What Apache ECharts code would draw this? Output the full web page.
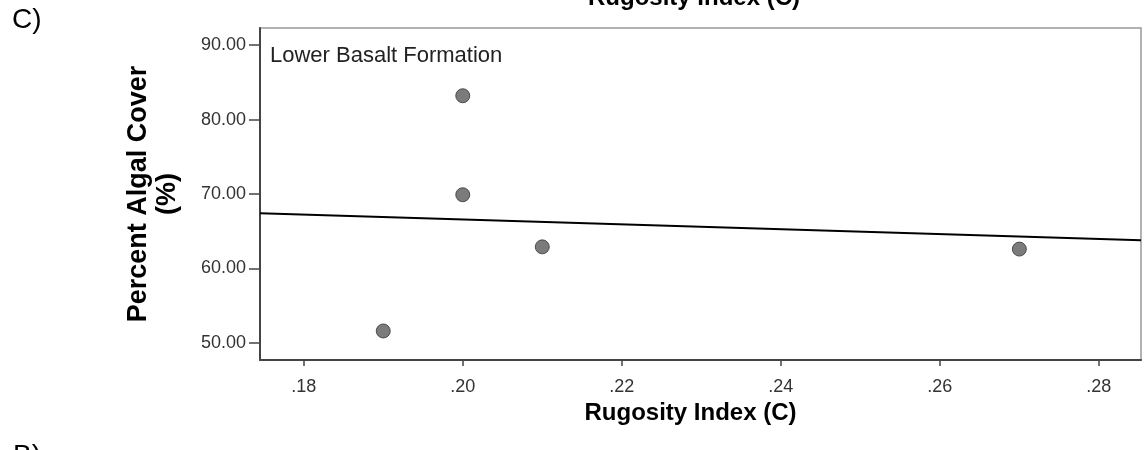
<!DOCTYPE html>
<html style="height: 100%">
<head>
	<meta charset="utf-8">
</head>
<body style="height: 100%; margin: 0; background: #fff">
<div id="container" style="width: 1144px; height: 450px"></div>
<script type="text/javascript" src="https://cdn.jsdelivr.net/npm/echarts@6/dist/echarts.min.js"></script>
<script type="text/javascript">
    var dom = document.getElementById("container");
    var myChart = echarts.init(dom);

    // observations: rugosity index vs percent algal cover
    var rugosity = [0.19, 0.20, 0.20, 0.21, 0.27];
    var algalCover = [51.6, 83.2, 69.9, 62.9, 62.6];
    // fitted line, read at the two ends of the x range
    var fitX = [0.1745, 0.2853];
    var fitY = [67.4, 63.8];
    var xTicks = [0.18, 0.20, 0.22, 0.24, 0.26, 0.28];
    var yTicks = [50, 60, 70, 80, 90];

    var font = 'Liberation Sans, Arial, sans-serif';

    let points = [];
    for (let i = 0; i < rugosity.length; i++) {
        points.push([rugosity[i], algalCover[i]]);
    }
    let fitLine = [[fitX[0], fitY[0]], [fitX[1], fitY[1]]];

    var option = {
        backgroundColor: '#fff',
        animation: false,
        title: [{
            text: 'C)',
            left: 7,
            top: 1,
            textStyle: { fontFamily: font, fontSize: 28, fontWeight: 'normal', color: '#000' }
        }, {
            text: 'Rugosity Index (C)',
            left: 583,
            top: -19,
            textStyle: { fontFamily: font, fontSize: 24, fontWeight: 'bold', color: '#000' }
        }, {
            text: 'Lower Basalt Formation',
            left: 265,
            top: 40,
            textStyle: { fontFamily: font, fontSize: 22, fontWeight: 'normal', color: '#222' }
        }, {
            text: 'B)',
            left: 8,
            top: 437,
            textStyle: { fontFamily: font, fontSize: 28, fontWeight: 'normal', color: '#000' }
        }],
        grid: {
            left: 260,
            right: 3,
            top: 28,
            bottom: 90,
            show: true,
            borderColor: '#999',
            borderWidth: 1.5,
            containLabel: false
        },
        xAxis: {
            type: 'value',
            min: fitX[0],
            max: fitX[1],
            name: 'Rugosity Index (C)',
            nameLocation: 'middle',
            nameGap: 37,
            nameTextStyle: { fontFamily: font, fontSize: 24, fontWeight: 'bold', color: '#000', padding: [0, 20, 0, 0] },
            axisLine: { show: true, lineStyle: { color: '#444', width: 2 } },
            axisTick: { show: true, length: 6, customValues: xTicks, lineStyle: { color: '#444', width: 1.5 } },
            axisLabel: {
                customValues: xTicks,
                margin: 18,
                fontFamily: font,
                fontSize: 18,
                color: '#333',
                formatter: function (v) { return v.toFixed(2).replace(/^0/, ''); }
            },
            splitLine: { show: false }
        },
        yAxis: {
            type: 'value',
            min: 47.7,
            max: 92.3,
            name: 'Percent Algal Cover\n(%)',
            nameLocation: 'middle',
            nameGap: 78,
            nameRotate: 90,
            nameTextStyle: { fontFamily: font, fontSize: 27, fontWeight: 'bold', color: '#000', lineHeight: 29 },
            axisLine: { show: true, lineStyle: { color: '#444', width: 2 } },
            axisTick: { show: true, length: 11, customValues: yTicks, lineStyle: { color: '#444', width: 1.5 } },
            axisLabel: {
                customValues: yTicks,
                margin: 14,
                fontFamily: font,
                fontSize: 18,
                color: '#333',
                formatter: function (v) { return v.toFixed(2); }
            },
            splitLine: { show: false }
        },
        series: [{
            type: 'line',
            data: fitLine,
            symbol: 'none',
            lineStyle: { color: '#000', width: 2 },
            silent: true
        }, {
            type: 'scatter',
            data: points,
            symbolSize: 14,
            itemStyle: { color: '#5a5a5a', borderColor: '#333', borderWidth: 1 }
        }]
    };

    myChart.setOption(option, true);
</script>
</body>
</html>
